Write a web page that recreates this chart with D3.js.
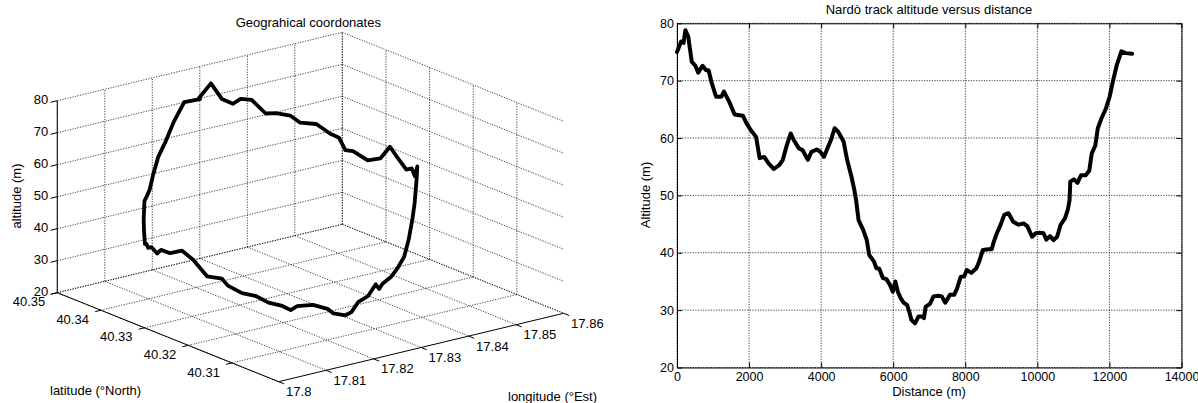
<!DOCTYPE html>
<html>
<head>
<meta charset="utf-8">
<script src="https://cdn.jsdelivr.net/npm/d3@7"></script>
<style>
  body { margin: 0; background: #fff; }
  svg { display: block; font-family: "Liberation Sans", Arial, Helvetica, sans-serif; }
  .grid { stroke: #111; stroke-width: 0.8; stroke-dasharray: 1.2,1.4; fill: none; }
  .ax { stroke: #000; stroke-width: 1; fill: none; }
</style>
</head>
<body>
<svg id="chart" width="1198" height="403"></svg>
<script>
// ---- right chart: altitude vs distance ----
const distance = [0,113,182,232,311,410,509,589,707,807,876,955,1084,1233,1302,1451,1599,1827,1926,2045,
  2194,2293,2422,2541,2690,2838,2937,3036,3155,3235,3383,3482,3631,3730,3879,3978,4077,4176,4275,4374,
  4473,4622,4721,4840,4919,4969,5038,5167,5266,5335,5464,5534,5613,5712,5811,5910,5989,6059,6128,6207,
  6287,6386,6455,6505,6604,6703,6802,6852,6901,7020,7119,7248,7347,7446,7575,7694,7773,7872,7971,8041,
  8170,8308,8388,8487,8635,8734,8784,8883,8982,9081,9200,9329,9477,9626,9725,9854,9953,10072,10171,10250,
  10350,10449,10548,10647,10766,10845,10894,10914,11013,11112,11211,11340,11440,11509,11608,11678,11777,11906,12005,12104,
  12203,12332,12451,12629]
const altitude = [75.0,76.8,76.6,78.8,77.7,73.3,72.6,71.4,72.6,71.8,71.8,69.8,67.2,67.2,68.1,66.3,64.1,63.9,62.6,61.4,
  60.2,56.5,56.7,55.6,54.6,55.3,56.2,58.5,60.8,59.7,58.2,57.9,56.2,57.6,58.0,57.6,56.7,58.2,59.7,61.7,
  61.1,59.4,56.2,53.3,51.0,49.2,45.7,44.0,42.2,39.6,38.5,37.3,37.2,35.6,35.4,34.4,33.2,35.0,33.2,32.1,
  31.3,30.9,29.5,28.3,27.7,28.9,28.9,28.6,30.6,31.1,32.4,32.5,32.4,31.3,32.7,32.7,33.8,35.8,35.9,37.0,
  36.5,37.3,38.5,40.5,40.6,40.6,41.8,43.5,44.9,46.6,46.9,45.4,44.9,45.1,44.6,42.8,43.4,43.5,43.4,42.3,
  42.9,42.2,42.8,44.9,46.0,47.5,49.2,52.4,52.8,52.2,53.5,53.5,54.3,57.3,58.7,61.7,63.4,65.2,67.2,70.1,
  72.7,75.1,74.8,74.7]
const distTicks = [0,2000,4000,6000,8000,10000,12000,14000]
const altTicks = [20,30,40,50,60,70,80]

// ---- left chart: 3D track (longitude, latitude, altitude) ----
const trackLon = [17.8246,17.8272,17.8293,17.8313,17.8326,17.8345,17.8367,17.8382,17.8402,17.8415,
  17.8434,17.8449,17.8458,17.8464,17.8470,17.8480,17.8486,17.8489,17.8488,17.8484,
  17.8476,17.8468,17.8451,17.8433,17.8416,17.8404,17.8386,17.8369,17.8348,17.8329,
  17.8307,17.8298,17.8290,17.8272,17.8251,17.8237,17.8225,17.8203,17.8192,17.8167,
  17.8142,17.8132,17.8120,17.8101,17.8084,17.8069,17.8054,17.8048,17.8035,17.8026,
  17.8020,17.8017,17.8019,17.8021,17.8027,17.8033,17.8037,17.8042,17.8054,17.8067,
  17.8076,17.8088,17.8108,17.8124,17.8142,17.8166,17.8187,17.8214,17.8249]
const trackLat = [40.3444,40.3444,40.3442,40.3438,40.3435,40.3430,40.3422,40.3415,40.3404,40.3395,
  40.3379,40.3364,40.3353,40.3345,40.3334,40.3311,40.3289,40.3270,40.3250,40.3227,
  40.3206,40.3190,40.3166,40.3148,40.3134,40.3126,40.3115,40.3107,40.3099,40.3093,
  40.3089,40.3087,40.3086,40.3084,40.3084,40.3084,40.3085,40.3088,40.3090,40.3096,
  40.3105,40.3109,40.3115,40.3126,40.3138,40.3152,40.3168,40.3175,40.3195,40.3217,
  40.3236,40.3260,40.3283,40.3294,40.3314,40.3328,40.3336,40.3345,40.3360,40.3375,
  40.3383,40.3393,40.3406,40.3415,40.3423,40.3432,40.3437,40.3442,40.3444]
const trackAlt = [75.0,78.8,73.3,71.3,72.5,71.8,67.2,67.2,66.3,64.1,
  63.9,61.2,60.2,56.5,56.6,54.6,56.2,60.8,58.2,56.2,
  58.0,56.7,61.7,59.4,53.3,49.2,44.0,39.6,37.3,35.6,
  34.4,33.2,35.0,32.1,30.9,28.3,27.7,28.9,30.6,32.4,
  32.4,31.3,32.7,33.8,35.9,36.5,38.5,40.5,40.6,44.9,
  46.9,44.9,44.6,42.8,43.5,42.3,42.9,42.2,44.9,47.5,
  52.4,52.2,53.5,57.3,61.7,65.2,70.1,75.1,74.7]
const lonTicks = [17.80,17.81,17.82,17.83,17.84,17.85,17.86]
const latTicks = [40.31,40.32,40.33,40.34,40.35]
const zTicks = [20,30,40,50,60,70,80]
const lonLim = [17.80,17.86], latLim = [40.2993,40.35], zLim = [20,80]

const svg = d3.select('#chart')
svg.append('rect').attr('width',1198).attr('height',403).attr('fill','#fff')

// ================= 3D plot =================
const g3 = svg.append('g')
const origin = [57.3, 292.7]
const lonX = d3.scaleLinear().domain(lonLim).range([0,285])
const lonY = d3.scaleLinear().domain(lonLim).range([0,-68.4])
const latX = d3.scaleLinear().domain([latLim[1],latLim[0]]).range([0,221.3])
const latY = d3.scaleLinear().domain([latLim[1],latLim[0]]).range([0,89])
const zY = d3.scaleLinear().domain(zLim).range([0,-192])
function proj(lon,lat,alt){
  return [origin[0]+lonX(lon)+latX(lat), origin[1]+lonY(lon)+latY(lat)+zY(alt)]
}
function seg(g,p,q,cls){
  g.append('line').attr('class',cls)
    .attr('x1',p[0]).attr('y1',p[1]).attr('x2',q[0]).attr('y2',q[1])
}
const latMax = latLim[1], latMin = latLim[0], lonMin = lonLim[0], lonMax = lonLim[1]
// floor grid
lonTicks.forEach(lo => seg(g3, proj(lo,latMax,20), proj(lo,latMin,20), 'grid'))
latTicks.forEach(la => seg(g3, proj(lonMin,la,20), proj(lonMax,la,20), 'grid'))
// back-left wall (lat = max)
lonTicks.forEach(lo => seg(g3, proj(lo,latMax,20), proj(lo,latMax,80), 'grid'))
zTicks.forEach(z => seg(g3, proj(lonMin,latMax,z), proj(lonMax,latMax,z), 'grid'))
// back-right wall (lon = max)
latTicks.forEach(la => seg(g3, proj(lonMax,la,20), proj(lonMax,la,80), 'grid'))
zTicks.forEach(z => seg(g3, proj(lonMax,latMax,z), proj(lonMax,latMin,z), 'grid'))

// axes
seg(g3, proj(lonMin,latMax,20), proj(lonMin,latMax,80), 'ax')
seg(g3, proj(lonMin,latMax,20), proj(lonMin,latMin,20), 'ax')
seg(g3, proj(lonMin,latMin,20), proj(lonMax,latMin,20), 'ax')

const fs = 13
// z ticks
zTicks.forEach(z => {
  const p = proj(lonMin,latMax,z)
  seg(g3, p, [p[0]-6.8, p[1]+1.6], 'ax')
  g3.append('text').attr('x',p[0]-9).attr('y',p[1]+3.2)
    .attr('text-anchor','end').attr('font-size',fs).text(z)
})
// latitude ticks
latTicks.forEach(la => {
  const p = proj(lonMin,la,20)
  seg(g3, p, [p[0]-5.8, p[1]+1.4], 'ax')
  g3.append('text').attr('x',p[0]-12).attr('y',p[1]+13.6)
    .attr('text-anchor','end').attr('font-size',fs).text(la.toFixed(2))
})
// longitude ticks
lonTicks.forEach(lo => {
  const p = proj(lo,latMin,20)
  seg(g3, p, [p[0]+5.6, p[1]+2.2], 'ax')
  g3.append('text').attr('x',p[0]+7.5).attr('y',p[1]+14.5)
    .attr('text-anchor','start').attr('font-size',fs).text(d3.format('.2~f')(lo))
})

// track
const line3 = d3.line().x(d => d[0]).y(d => d[1])
const pts3 = trackLon.map((lo,i) => proj(lo, trackLat[i], trackAlt[i]))
g3.append('path').attr('d', line3(pts3))
  .attr('fill','none').attr('stroke','#000').attr('stroke-width',3.8)
  .attr('stroke-linejoin','round').attr('stroke-linecap','round')

g3.append('text').attr('x',308.3).attr('y',26.5).attr('text-anchor','middle')
  .attr('font-size',fs).text('Geograhical coordonates')
g3.append('text').attr('transform','translate(20.5,196) rotate(-90)')
  .attr('text-anchor','middle').attr('font-size',fs).text('altitude (m)')
g3.append('text').attr('x',50).attr('y',394.5).attr('font-size',fs).text('latitude (°North)')
g3.append('text').attr('x',508).attr('y',401).attr('font-size',fs).text('longitude (°Est)')

// ================= 2D plot =================
const g2 = svg.append('g')
const x = d3.scaleLinear().domain([0,14000]).range([677,1181.5])
const y = d3.scaleLinear().domain([20,80]).range([367.5,23.3])

// grid
distTicks.forEach(t => seg(g2, [x(t),y(20)], [x(t),y(80)], 'grid'))
altTicks.forEach(t => seg(g2, [x(0),y(t)], [x(14000),y(t)], 'grid'))

const tfs = 12.5
g2.append('g').attr('transform',`translate(0,${y(20)})`)
  .call(d3.axisBottom(x).tickValues(distTicks).tickFormat(d3.format('d'))
    .tickSize(-5).tickSizeOuter(0).tickPadding(5))
g2.append('g').attr('transform',`translate(0,${y(80)})`)
  .call(d3.axisTop(x).tickValues(distTicks).tickSize(-5).tickSizeOuter(0).tickFormat(''))
g2.append('g').attr('transform',`translate(${x(0)},0)`)
  .call(d3.axisLeft(y).tickValues(altTicks).tickSize(-5).tickSizeOuter(0).tickPadding(3))
g2.append('g').attr('transform',`translate(${x(14000)},0)`)
  .call(d3.axisRight(y).tickValues(altTicks).tickSize(-5).tickSizeOuter(0).tickFormat(''))
g2.selectAll('.domain').attr('stroke','#000')
g2.selectAll('.tick line').attr('stroke','#000')
g2.selectAll('.tick text').attr('font-size',tfs).attr('fill','#000')
  .attr('font-family','"Liberation Sans", Arial, Helvetica, sans-serif')

const line2 = d3.line().x((d,i) => x(distance[i])).y(d => y(d))
g2.append('path').attr('d', line2(altitude))
  .attr('fill','none').attr('stroke','#000').attr('stroke-width',4)
  .attr('stroke-linejoin','round').attr('stroke-linecap','round')

g2.append('text').attr('x',929).attr('y',14).attr('text-anchor','middle')
  .attr('font-size',fs).text('Nardò track altitude versus distance')
g2.append('text').attr('x',929).attr('y',396).attr('text-anchor','middle')
  .attr('font-size',fs).text('Distance (m)')
g2.append('text').attr('transform','translate(650,195) rotate(-90)')
  .attr('text-anchor','middle').attr('font-size',fs).text('Altitude (m)')
</script>
</body>
</html>
